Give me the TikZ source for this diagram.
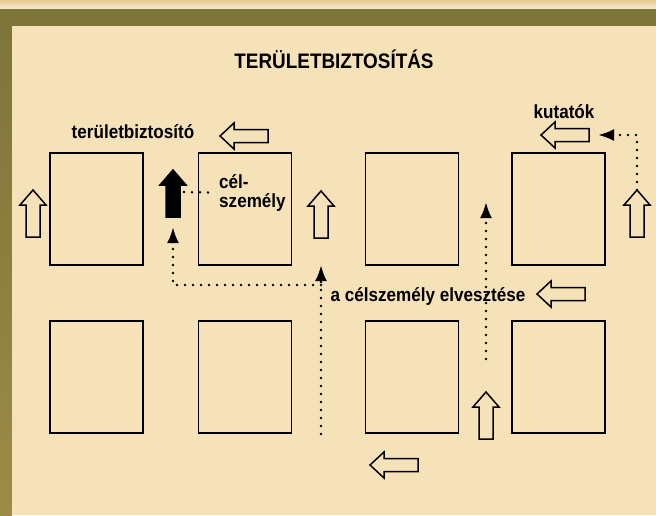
\documentclass[tikz,border=0pt]{standalone}
\usepackage{fontspec}
\setmainfont{Liberation Sans}[FakeStretch=0.9]
\usetikzlibrary{arrows.meta}

\definecolor{bandolive}{HTML}{7E7538}
\definecolor{bandlow}{HTML}{9B8B48}
\definecolor{paper}{HTML}{F6E2B9}
\definecolor{striptop}{HTML}{E6CC90}
\definecolor{stripbot}{HTML}{F4EAD6}

\tikzset{
  box/.style={draw,line width=1.7pt,minimum width=93pt,minimum height=112pt,inner sep=0pt},
  arrfill/.style={fill=paper},
  hollow/.style={draw,line width=1.5pt,arrfill,line join=miter},
  dotline/.style={line width=2.8pt,line cap=round,dash pattern=on 0pt off 8pt},
  dotarr/.style={dotline,-{Latex[length=16pt,width=12pt]}},
  lbl/.style={font=\bfseries\fontsize{19}{19}\selectfont,inner sep=0pt},
  uparr/.pic={
    \draw[hollow] (0,0) -- (13,15) -- (7,15) -- (7,47) -- (-7,47) -- (-7,15) -- (-13,15) -- cycle;
    \coordinate (-tip) at (0,0);
    \coordinate (-tail) at (0,47);
    \coordinate (-side) at (11,22);
  },
  leftarr/.pic={
    \draw[hollow] (0,0) -- (14,-13) -- (14,-6.5) -- (48,-6.5) -- (48,6.5) -- (14,6.5) -- (14,13) -- cycle;
    \coordinate (-tip) at (0,0);
    \coordinate (-tail) at (48,0);
  }
}

\begin{document}
\begin{tikzpicture}[x=1pt,y=-1pt]
\useasboundingbox (0,0) rectangle (656,515);

%--------------------------------------------------- background
\shade[top color=striptop,bottom color=stripbot] (0,0) rectangle (656,9);
\fill[bandolive] (0,9) rectangle (656,26);
\shade[top color=bandolive,bottom color=bandlow] (0,26) rectangle (12,515);
\fill[paper] (12,26) rectangle (656,515);

\node[anchor=base,font=\bfseries\fontsize{21}{21}\selectfont] (title) at (334,68) {TERÜLETBIZTOSÍTÁS};

%--------------------------------------------------- blocks
\node[box] (b11) at (96.5,209) {};
\node[box] (b12) at (245,209) {};
\node[box] (b13) at (412,209) {};
\node[box] (b14) at (558.5,209) {};
\node[box] (b21) at (96.5,377) {};
\node[box] (b22) at (245,377) {};
\node[box] (b23) at (412,377) {};
\node[box] (b24) at (558.5,377) {};

%--------------------------------------------------- moves
\pic (ua1) at (33,190) {uparr};
\pic (ua2) at (321,191) {uparr};
\pic (ua3) at (637,190) {uparr};
\pic (ua4) at (486,392) {uparr};
\pic (la1) at (220,136) {leftarr};
\pic (la2) at (541,135) {leftarr};
\pic (la3) at (537,294) {leftarr};
\pic (la4) at (370,465) {leftarr};
\pic[arrfill/.style={fill=black}] (tgt) at (173,170) {uparr};

%--------------------------------------------------- labels
\node[lbl,anchor=base] (guard) at (133,138) {területbiztosító};
\node[lbl,anchor=north west,align=left] (target) at (219,174) {cél-\\személy};
\node[lbl,anchor=base] (search) at (564,118) {kutatók};
\node[lbl,anchor=base] (lost) at (428,301) {a célszemély elvesztése};

%--------------------------------------------------- tracks
\coordinate (trail) at (321,434);
\coordinate (fork) at (321,285);
\coordinate (peak) at (486,202);
\draw[dotline,shorten >=5pt] (tgt-side) -- (target.west);
\draw[dotarr] (trail) -- ([yshift=-27pt]ua2-tail);
\draw[dotarr] (fork) -| ([yshift=-10pt]tgt-tail);
\draw[dotarr] ([yshift=33pt]ua4-tip) -- (peak);
\draw[dotarr] (ua3-tip) |- ([xshift=9pt]la2-tail);
\end{tikzpicture}
\end{document}
